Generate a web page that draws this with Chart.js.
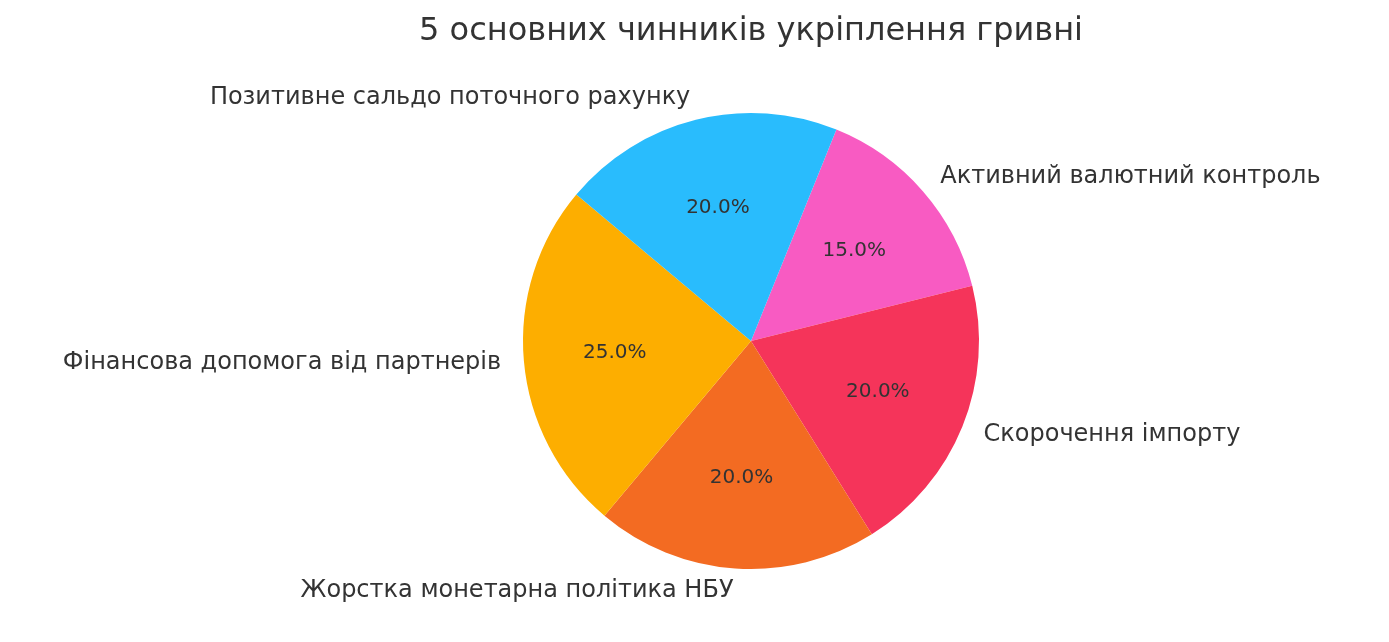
<!DOCTYPE html>
<html>
<head>
<meta charset="utf-8">
<script src="https://cdn.jsdelivr.net/npm/chart.js@4"></script>
<style>
  html, body { margin: 0; padding: 0; background: #fff; }
  #wrap { width: 1389px; height: 642px; }
</style>
</head>
<body>
<div id="wrap"><canvas id="pieChart"></canvas></div>
<script>
const TITLE = '5 основних чинників укріплення гривні';
const labels = [
    'Активний валютний контроль',
    'Скорочення імпорту',
    'Жорстка монетарна політика НБУ',
    'Фінансова допомога від партнерів',
    'Позитивне сальдо поточного рахунку'
];
const values = [15, 20, 20, 25, 20];
const colors = ['#F85BC2', '#F5345A', '#F36B22', '#FDAE00', '#29BCFD'];

const textColor = '#333333';
const fontFamily = '"DejaVu Sans", sans-serif';

// draws title, outside labels and percentages like matplotlib autopct
const pieLabels = {
    id: 'pieLabels',
    afterDatasetsDraw(chart) {
        const ctx = chart.ctx;
        const total = values.reduce((a, b) => a + b, 0);
        ctx.save();
        ctx.fillStyle = textColor;
        ctx.textBaseline = 'middle';

        ctx.font = '32px ' + fontFamily;
        ctx.textAlign = 'center';
        ctx.fillText(TITLE, 751, 32);

        chart.getDatasetMeta(0).data.forEach((arc, i) => {
            const {x, y, startAngle, endAngle, outerRadius} = arc.getProps(['x', 'y', 'startAngle', 'endAngle', 'outerRadius'], true);
            const mid = (startAngle + endAngle) / 2;
            const cx = Math.cos(mid), cy = Math.sin(mid);

            ctx.font = '20px ' + fontFamily;
            ctx.textAlign = 'center';
            ctx.fillText((values[i] / total * 100).toFixed(1) + '%', x + cx * outerRadius * 0.6, y + cy * outerRadius * 0.6);

            ctx.font = '24px ' + fontFamily;
            ctx.textAlign = cx >= 0 ? 'left' : 'right';
            ctx.fillText(labels[i], x + cx * outerRadius * 1.1, y + cy * outerRadius * 1.1);
        });
        ctx.restore();
    }
};

new Chart(document.getElementById('pieChart').getContext('2d'), {
    type: 'pie',
    data: {
        labels,
        datasets: [{
            data: values,
            backgroundColor: colors,
            borderWidth: 0
        }]
    },
    options: {
        responsive: true,
        maintainAspectRatio: false,
        animation: false,
        rotation: 22,
        layout: {
            padding: {left: 523, right: 410, top: 113, bottom: 73}
        },
        plugins: {
            legend: {display: false},
            tooltip: {enabled: false},
            title: {display: false}
        }
    },
    plugins: [pieLabels]
});
</script>
</body>
</html>
